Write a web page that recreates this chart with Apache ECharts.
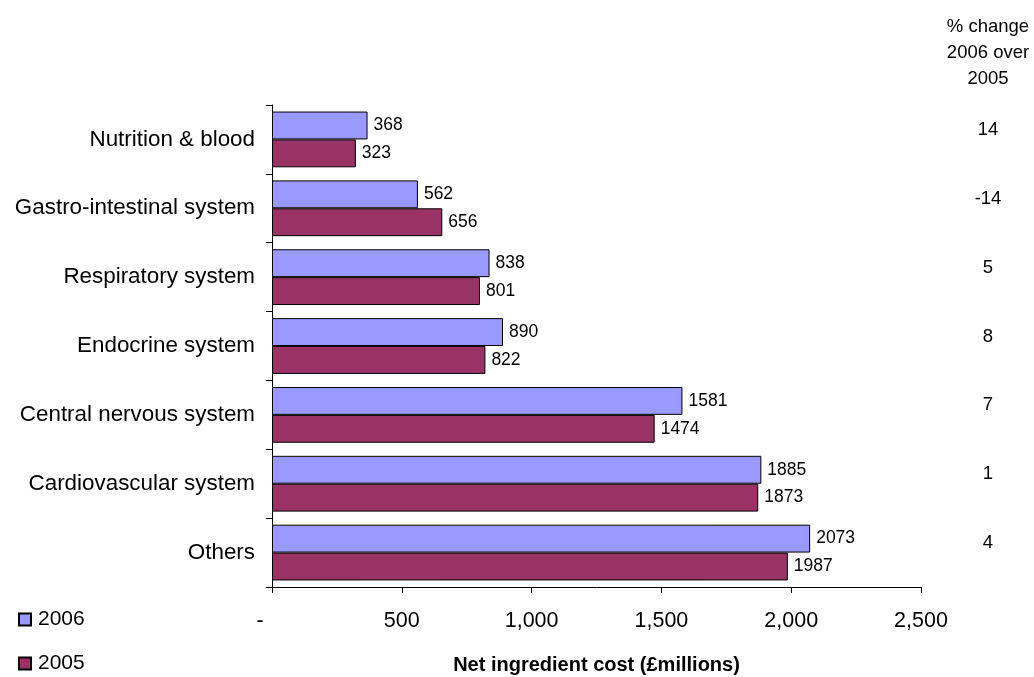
<!DOCTYPE html>
<html>
<head>
<meta charset="utf-8">
<script src="https://cdn.jsdelivr.net/npm/echarts@6/dist/echarts.min.js"></script>
<style>
  html, body { margin: 0; padding: 0; background: #fff; }
  #chart { width: 1034px; height: 677px; }
</style>
</head>
<body>
<div id="chart"></div>
<script>
// Net ingredient cost by therapeutic area, 2006 vs 2005 (£ millions)
const categories = [
  'Nutrition & blood',
  'Gastro-intestinal system',
  'Respiratory system',
  'Endocrine system',
  'Central nervous system',
  'Cardiovascular system',
  'Others'
];
const cost2006 = [368, 562, 838, 890, 1581, 1885, 2073];
const cost2005 = [323, 656, 801, 822, 1474, 1873, 1987];
const pctChange = [14, -14, 5, 8, 7, 1, 4];
const xTicks = { min: 0, max: 2500, interval: 500 };

const FONT = "'Liberation Sans', Arial, sans-serif";

const chart = echarts.init(document.getElementById('chart'), null, { renderer: 'canvas' });

chart.setOption({
  backgroundColor: '#ffffff',
  animation: false,
  textStyle: { fontFamily: FONT, color: '#000' },
  title: {
    text: '% change\n2006 over\n2005',
    left: 988,
    top: 14,
    padding: 0,
    textAlign: 'center',
    textStyle: {
      fontFamily: FONT,
      fontSize: 18.5,
      fontWeight: 'normal',
      lineHeight: 26,
      color: '#000'
    }
  },
  legend: {
    data: ['2006', '2005'],
    orient: 'vertical',
    left: 18,
    top: 609,
    height: 68,
    padding: 0,
    itemWidth: 12,
    itemHeight: 12,
    itemGap: 23,
    icon: 'rect',
    textStyle: { fontFamily: FONT, fontSize: 21, color: '#000', padding: [0, 0, 0, 2] }
  },
  grid: {
    left: 272,
    top: 105,
    width: 649,
    height: 482,
    containLabel: false,
    outerBoundsMode: 'none'
  },
  xAxis: {
    type: 'value',
    min: xTicks.min,
    max: xTicks.max,
    interval: xTicks.interval,
    name: 'Net ingredient cost (£millions)',
    nameLocation: 'middle',
    nameGap: 68,
    nameTextStyle: { fontFamily: FONT, fontSize: 20, fontWeight: 'bold', color: '#000' },
    axisLine: { show: true, lineStyle: { color: '#000', width: 1 } },
    axisTick: { show: true, length: 6, lineStyle: { color: '#000' } },
    splitLine: { show: false },
    axisLabel: {
      fontFamily: FONT,
      fontSize: 21.5,
      color: '#000',
      margin: 23,
      formatter: v => (v === 0 ? '-    ' : v.toLocaleString('en-US'))
    }
  },
  yAxis: [
    {
      type: 'category',
      data: categories,
      inverse: true,
      axisLine: { show: true, lineStyle: { color: '#000', width: 1 } },
      axisTick: { show: true, length: 6, lineStyle: { color: '#000' } },
      axisLabel: { fontFamily: FONT, fontSize: 22.4, color: '#000', margin: 17 }
    },
    {
      type: 'category',
      data: categories,
      inverse: true,
      position: 'right',
      axisLine: { show: false },
      axisTick: { show: false },
      axisLabel: {
        fontFamily: FONT,
        fontSize: 18.5,
        color: '#000',
        margin: 67,
        align: 'center',
        verticalAlign: 'bottom',
        formatter: (v, i) => String(pctChange[i])
      }
    }
  ],
  series: [
    {
      name: '2006',
      type: 'bar',
      data: cost2006,
      barGap: '0%',
      barCategoryGap: '19%',
      itemStyle: { color: '#9999FF', borderColor: '#000', borderWidth: 1 },
      label: { show: true, position: 'right', distance: 6, fontFamily: FONT, fontSize: 17.5, color: '#000' }
    },
    {
      name: '2005',
      type: 'bar',
      data: cost2005,
      barGap: '0%',
      barCategoryGap: '19%',
      itemStyle: { color: '#993366', borderColor: '#000', borderWidth: 1 },
      label: { show: true, position: 'right', distance: 6, fontFamily: FONT, fontSize: 17.5, color: '#000' }
    }
  ]
});
</script>
</body>
</html>
